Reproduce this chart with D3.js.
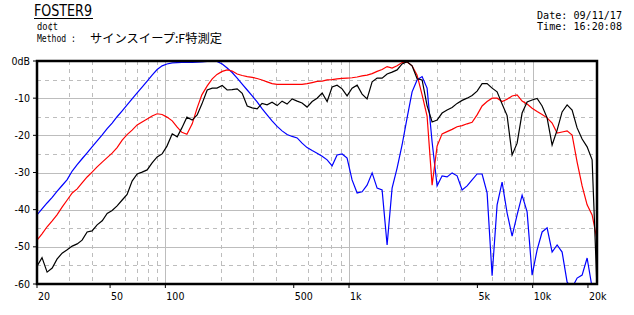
<!DOCTYPE html>
<html><head><meta charset="utf-8">
<script src="https://cdn.jsdelivr.net/npm/d3@7/dist/d3.min.js"></script>
<style>
html,body{margin:0;padding:0;background:#fff;}
svg{display:block;}
</style></head>
<body>
<svg id="c" width="634" height="315"></svg>
<script>
// ---- data ----
const freqs = [20,21.3,22.7,24.2,25.7,27.4,29.2,31.1,33.1,35.2,37.5,39.9,42.5,45.3,48.2,51.3,54.6,58.2,61.9,65.9,
70.2,74.7,79.6,84.7,90.2,96.0,102,109,116,123,131,140,149,158,169,180,191,204,217,231,
246,262,279,297,316,336,358,381,406,432,460,490,522,555,591,630,670,714,760,809,
861,917,976,1039,1107,1178,1254,1336,1422,1514,1612,1716,1827,1945,2071,2205,2348,2500,2661,2834,
3017,3212,3420,3641,3877,4128,4395,4679,4982,5304,5648,6013,6402,6816,7257,7727,8227,8759,9326,9929,
10572,11256,11984,12760,13585,14464,15400,16397,17458,18587,19790,21071,22434];

const blueDb = [-41.4,-39.8,-38.2,-36.7,-35.1,-33.5,-31.9,-29.6,-27.9,-26.3,-24.7,-23.1,-21.5,-19.9,-18.2,-16.7,-15.0,-13.4,-11.8,-10.2,
-8.6,-7.0,-5.4,-3.8,-2.3,-1.3,-0.8,-0.5,-0.45,-0.4,-0.35,-0.35,-0.3,-0.25,-0.1,-0.05,-0.1,-0.8,-1.9,-3.1,
-4.6,-6.2,-7.8,-9.4,-11.0,-12.8,-14.5,-16.1,-17.6,-18.8,-19.8,-20.3,-20.7,-22.1,-23.3,-24.1,-24.8,-25.6,-26.6,-28.2,
-25.3,-25.0,-26.1,-32.0,-35.5,-35.2,-33.4,-30.1,-34.2,-34.7,-49.5,-34.2,-28.8,-22.6,-15.3,-8.3,-5.1,-4.2,-7.3,-21.8,
-33.6,-30.9,-31.2,-30.1,-30.9,-34.7,-33.6,-32.0,-30.4,-30.4,-35.5,-57.8,-38.7,-32.6,-40.9,-47.1,-41.4,-36.1,-40.6,-57.6,
-50.8,-46.0,-44.9,-51.4,-49.5,-51.4,-59.5,-61,-58.4,-57.6,-53.0,-61,-61];

const redDb = [-48.2,-46.5,-44.6,-43.0,-41.4,-39.3,-37.4,-35.5,-34.4,-32.8,-31.2,-29.9,-28.5,-27.2,-26.0,-24.8,-23.3,-21.3,-19.8,-18.6,
-17.2,-16.4,-15.6,-14.8,-14.2,-14.4,-15.1,-16.1,-17.8,-19.2,-19.7,-16.9,-12.6,-9.1,-6.7,-4.8,-3.6,-2.8,-2.4,-2.7,
-3.5,-3.9,-4.2,-4.4,-4.7,-5.1,-5.6,-6.1,-6.3,-6.3,-6.3,-6.3,-6.3,-6.3,-6.1,-5.8,-5.5,-5.4,-5.1,-5.0,
-4.8,-4.7,-4.6,-4.5,-4.3,-4.0,-3.8,-3.4,-2.8,-2.3,-1.5,-1.9,-1.3,-0.4,-0.3,-1.3,-3.8,-9.1,-14.8,-33.4,
-22.9,-19.6,-19.0,-18.4,-17.7,-17.4,-16.9,-16.5,-14.5,-12.1,-10.9,-10.0,-10.0,-10.9,-10.3,-9.4,-9.1,-10.8,-11.6,-12.7,
-13.6,-14.4,-15.3,-16.7,-19.4,-19.1,-18.8,-19.9,-27.2,-33.6,-38.7,-41.4,-48.2];

const blackDb = [-55.2,-52.9,-56.8,-55.7,-53.3,-51.7,-50.8,-49.8,-49.2,-48.2,-46.0,-45.7,-44.1,-43.0,-41.0,-40.2,-39.0,-37.4,-35.9,-32.3,
-30.4,-29.9,-29.3,-27.4,-25.8,-25.0,-22.9,-19.6,-20.4,-18.0,-15.1,-15.9,-14.5,-11.6,-7.8,-7.3,-7.3,-6.6,-7.8,-7.7,
-7.5,-8.7,-12.1,-12.6,-12.9,-11.4,-11.8,-11.1,-12.0,-10.8,-11.6,-10.2,-10.8,-11.3,-12.4,-10.9,-10.0,-8.6,-10.9,-7.0,
-6.5,-7.5,-9.4,-7.3,-6.5,-8.9,-10.2,-5.6,-4.6,-4.6,-3.5,-3.0,-2.4,-0.8,-0.2,-1.3,-4.8,-5.1,-12.0,-16.4,
-15.9,-14.0,-13.2,-12.5,-11.4,-10.6,-10.0,-9.3,-8.1,-6.1,-6.1,-7.3,-8.3,-11.6,-14.7,-25.3,-22.1,-14.0,-11.0,-10.5,
-10.1,-12.1,-15.3,-22.6,-18.6,-13.7,-11.8,-13.2,-18.0,-21.0,-23.1,-26.6,-62];

const yTicks = [0,-10,-20,-30,-40,-50,-60];
const yTickLabels = ["0dB","-10","-20","-30","-40","-50","-60"];
const xTicks = [20,50,100,500,1000,5000,10000,20000];
const xTickLabels = ["20","50","100","500","1k","5k","10k","20k"];
const xMinor = [30,40,60,70,80,90,200,300,400,600,700,800,900,2000,3000,4000,6000,7000,8000,9000];
const xMajor = [100,1000,10000];
const yMinor = [-5,-15,-25,-35,-45,-55];

// ---- chart ----
const svg = d3.select("#c");
const L = 37, R = 597, T = 61, B = 284;
const x = d3.scaleLog().domain([20, 22400]).range([L, R]);
const y = d3.scaleLinear().domain([-60, 0]).range([B, T]);
const grid = "#bdbdbd";

svg.append("defs").append("clipPath").attr("id","clip")
  .append("rect").attr("x",L).attr("y",T).attr("width",R-L).attr("height",B-T);

const g = svg.append("g");
g.selectAll(".hmaj").data(yTicks.filter(d=>d!==0 && d!==-60)).join("line")
  .attr("x1",L).attr("x2",R).attr("y1",d=>Math.round(y(d))+0.5).attr("y2",d=>Math.round(y(d))+0.5)
  .attr("stroke",grid).attr("stroke-width",1);
g.selectAll(".hmin").data(yMinor).join("line")
  .attr("x1",L).attr("x2",R).attr("y1",d=>Math.round(y(d))+0.5).attr("y2",d=>Math.round(y(d))+0.5)
  .attr("stroke",grid).attr("stroke-width",1).attr("stroke-dasharray","4,4");
g.selectAll(".vmaj").data(xMajor).join("line")
  .attr("x1",d=>Math.round(x(d))+0.5).attr("x2",d=>Math.round(x(d))+0.5).attr("y1",T).attr("y2",B)
  .attr("stroke",grid).attr("stroke-width",1);
g.selectAll(".vmin").data(xMinor).join("line")
  .attr("x1",d=>Math.round(x(d))+0.5).attr("x2",d=>Math.round(x(d))+0.5).attr("y1",T).attr("y2",B)
  .attr("stroke",grid).attr("stroke-width",1).attr("stroke-dasharray","4,4");

const series = [
  {vals: blueDb, color: "#0000ff"},
  {vals: redDb, color: "#ff0000"},
  {vals: blackDb, color: "#000000"}
];
const line = d3.line().x(d=>x(d[0])).y(d=>y(d[1]));
const cg = svg.append("g").attr("clip-path","url(#clip)");
series.forEach(s=>{
  cg.append("path").datum(freqs.map((f,i)=>[f,s.vals[i]]))
    .attr("d",line).attr("fill","none").attr("stroke",s.color).attr("stroke-width",1.2);
});

svg.append("rect").attr("x",L).attr("y",T).attr("width",R-L).attr("height",B-T)
  .attr("fill","none").attr("stroke","#000").attr("stroke-width",2.5);

const axFont = "'Liberation Sans Narrow','DejaVu Sans Condensed',sans-serif";
const ya = svg.append("g");
ya.selectAll("line").data(yTicks).join("line")
  .attr("x1",L-4).attr("x2",L).attr("y1",d=>y(d)).attr("y2",d=>y(d))
  .attr("stroke","#000").attr("stroke-width",1);
ya.selectAll("text").data(yTicks).join("text")
  .attr("x",30).attr("y",d=>y(d)+3.5).attr("text-anchor","end")
  .attr("font-family",axFont).attr("font-size",10.5)
  .text((d,i)=>yTickLabels[i]);

const xa = svg.append("g");
xa.selectAll("line").data(xTicks).join("line")
  .attr("x1",d=>x(d)).attr("x2",d=>x(d)).attr("y1",B).attr("y2",B+4)
  .attr("stroke","#000").attr("stroke-width",1);
xa.selectAll("text").data(xTicks).join("text")
  .attr("x",d=>x(d)+1).attr("y",299.5).attr("text-anchor","start")
  .attr("font-family",axFont).attr("font-size",10.5)
  .text((d,i)=>xTickLabels[i]);

const mono = "'DejaVu Sans Mono','Liberation Mono',monospace";
const jp = "'Noto Sans CJK JP',sans-serif";
svg.append("text").attr("x",34).attr("y",16).attr("font-family","'DejaVu Sans Condensed','Liberation Sans Narrow',sans-serif")
  .attr("font-size",16).attr("textLength",58).attr("lengthAdjust","spacingAndGlyphs").text("FOSTER9");
svg.append("line").attr("x1",34).attr("x2",93).attr("y1",18.5).attr("y2",18.5).attr("stroke","#000").attr("stroke-width",1);
svg.append("text").attr("x",37).attr("y",30).attr("font-family",mono).attr("font-size",10.5)
  .attr("textLength",21).attr("lengthAdjust","spacingAndGlyphs").text("do¢t");
svg.append("text").attr("x",37).attr("y",42).attr("font-family",mono).attr("font-size",11)
  .attr("textLength",39).attr("lengthAdjust","spacingAndGlyphs").text("Method :");
svg.append("text").attr("x",90).attr("y",42.5).attr("font-family",jp).attr("font-size",12)
  .attr("textLength",132).attr("lengthAdjust","spacingAndGlyphs").text("サインスイープ:F特測定");
svg.append("text").attr("x",537).attr("y",19).attr("font-family",mono).attr("font-size",10.5)
  .attr("textLength",85).attr("lengthAdjust","spacingAndGlyphs").text("Date: 09/11/17");
svg.append("text").attr("x",537).attr("y",30).attr("font-family",mono).attr("font-size",10.5)
  .attr("textLength",85).attr("lengthAdjust","spacingAndGlyphs").text("Time: 16:20:08");
</script>
</body></html>
